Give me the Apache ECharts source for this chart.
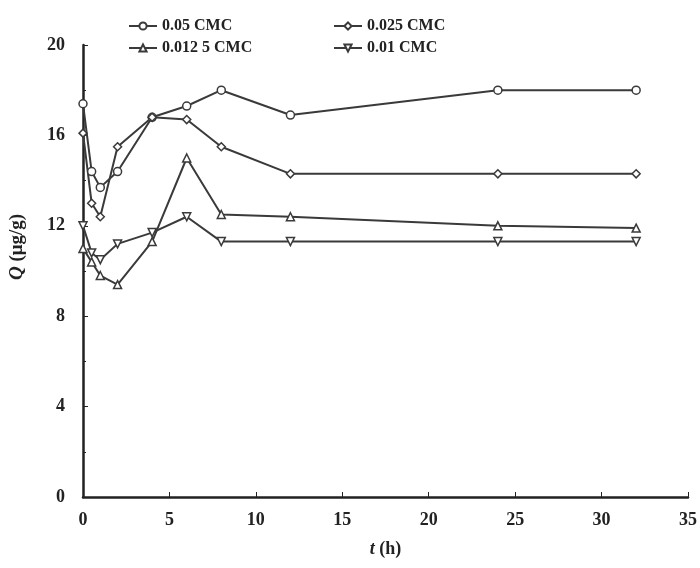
<!DOCTYPE html>
<html><head><meta charset="utf-8">
<script src="https://cdn.jsdelivr.net/npm/echarts@6/dist/echarts.min.js"></script>
<style>html,body{margin:0;padding:0;background:#fff}#c{width:700px;height:568px}</style>
</head><body><div id="c"></div>
<script>
var times = [0, 0.5, 1, 2, 4, 6, 8, 12, 24, 32];
var cmc005 = [17.4, 14.4, 13.7, 14.4, 16.8, 17.3, 18.0, 16.9, 18.0, 18.0];
var cmc0025 = [16.1, 13.0, 12.4, 15.5, 16.8, 16.7, 15.5, 14.3, 14.3, 14.3];
var cmc00125 = [11.0, 10.4, 9.8, 9.4, 11.3, 15.0, 12.5, 12.4, 12.0, 11.9];
var cmc001 = [12.0, 10.8, 10.5, 11.2, 11.7, 12.4, 11.3, 11.3, 11.3, 11.3];
var names = ['0.05 CMC', '0.025 CMC', '0.012 5 CMC', '0.01 CMC'];
var xTicks = [0, 5, 10, 15, 20, 25, 30, 35];
var yTicks = [0, 4, 8, 12, 16, 20];

function pairs(v){ return times.map(function(t,i){ return [t, v[i]]; }); }
var font = 'Liberation Serif';
var symbols = ['circle', 'diamond', 'triangle', 'triangle'];
var rot = [0, 0, 0, 180];
var allData = [cmc005, cmc0025, cmc00125, cmc001];
var series = allData.map(function(d, i){
  return {
    name: names[i], type: 'line', data: pairs(d),
    symbol: symbols[i], symbolSize: 8, symbolRotate: rot[i],
    lineStyle: {color: '#3a3a3a', width: 2},
    itemStyle: {color: '#fff', borderColor: '#3a3a3a', borderWidth: 1.5},
    emphasis: {disabled: true}
  };
});
var legendPos = [[128, 18], [333, 18], [128, 40], [333, 40]];
var legends = names.map(function(n, i){
  return {
    data: [n], left: legendPos[i][0], top: legendPos[i][1],
    itemWidth: 28, itemHeight: 9, itemGap: 0, padding: 0,
    textStyle: {fontFamily: font, fontSize: 16, fontWeight: 'bold', color: '#222'}
  };
});
var chart = echarts.init(document.getElementById('c'));
chart.setOption({
  animation: false,
  color: ['#3a3a3a','#3a3a3a','#3a3a3a','#3a3a3a'],
  legend: legends,
  grid: {left: 83, right: 12, top: 45, bottom: 71, containLabel: false, outerBoundsMode: 'none'},
  xAxis: {
    type: 'value', min: xTicks[0], max: xTicks[xTicks.length-1], interval: 5,
    axisLine: {show: true, onZero: false, lineStyle: {color: '#222', width: 2.5}},
    axisTick: {show: true, inside: true, length: 5, lineStyle: {color: '#222'}},
    axisLabel: {fontFamily: font, fontSize: 18, fontWeight: 'bold', color: '#222', margin: 14},
    splitLine: {show: false},
    name: '{i|t} (h)', nameLocation: 'middle', nameGap: 43,
    nameTextStyle: {fontFamily: font, fontSize: 18, fontWeight: 'bold', color: '#222',
      rich: {i: {fontStyle: 'italic', fontFamily: font, fontSize: 18, fontWeight: 'bold', color: '#222'}}}
  },
  yAxis: {
    type: 'value', min: yTicks[0], max: yTicks[yTicks.length-1], interval: 4,
    axisLine: {show: true, lineStyle: {color: '#222', width: 2.5}},
    axisTick: {show: true, inside: true, length: 5, lineStyle: {color: '#222'}},
    minorTick: {show: true, splitNumber: 2, length: 3, lineStyle: {color: '#222'}},
    axisLabel: {fontFamily: font, fontSize: 18, fontWeight: 'bold', color: '#222', margin: 18},
    splitLine: {show: false},
    name: '{i|Q} (μg/g)', nameLocation: 'middle', nameGap: 56, nameRotate: 90,
    nameTextStyle: {fontFamily: font, fontSize: 19, fontWeight: 'bold', color: '#222',
      padding: [0, 0, 0, 48],
      rich: {i: {fontStyle: 'italic', fontFamily: font, fontSize: 19, fontWeight: 'bold', color: '#222'}}}
  },
  series: series
});
</script></body></html>
